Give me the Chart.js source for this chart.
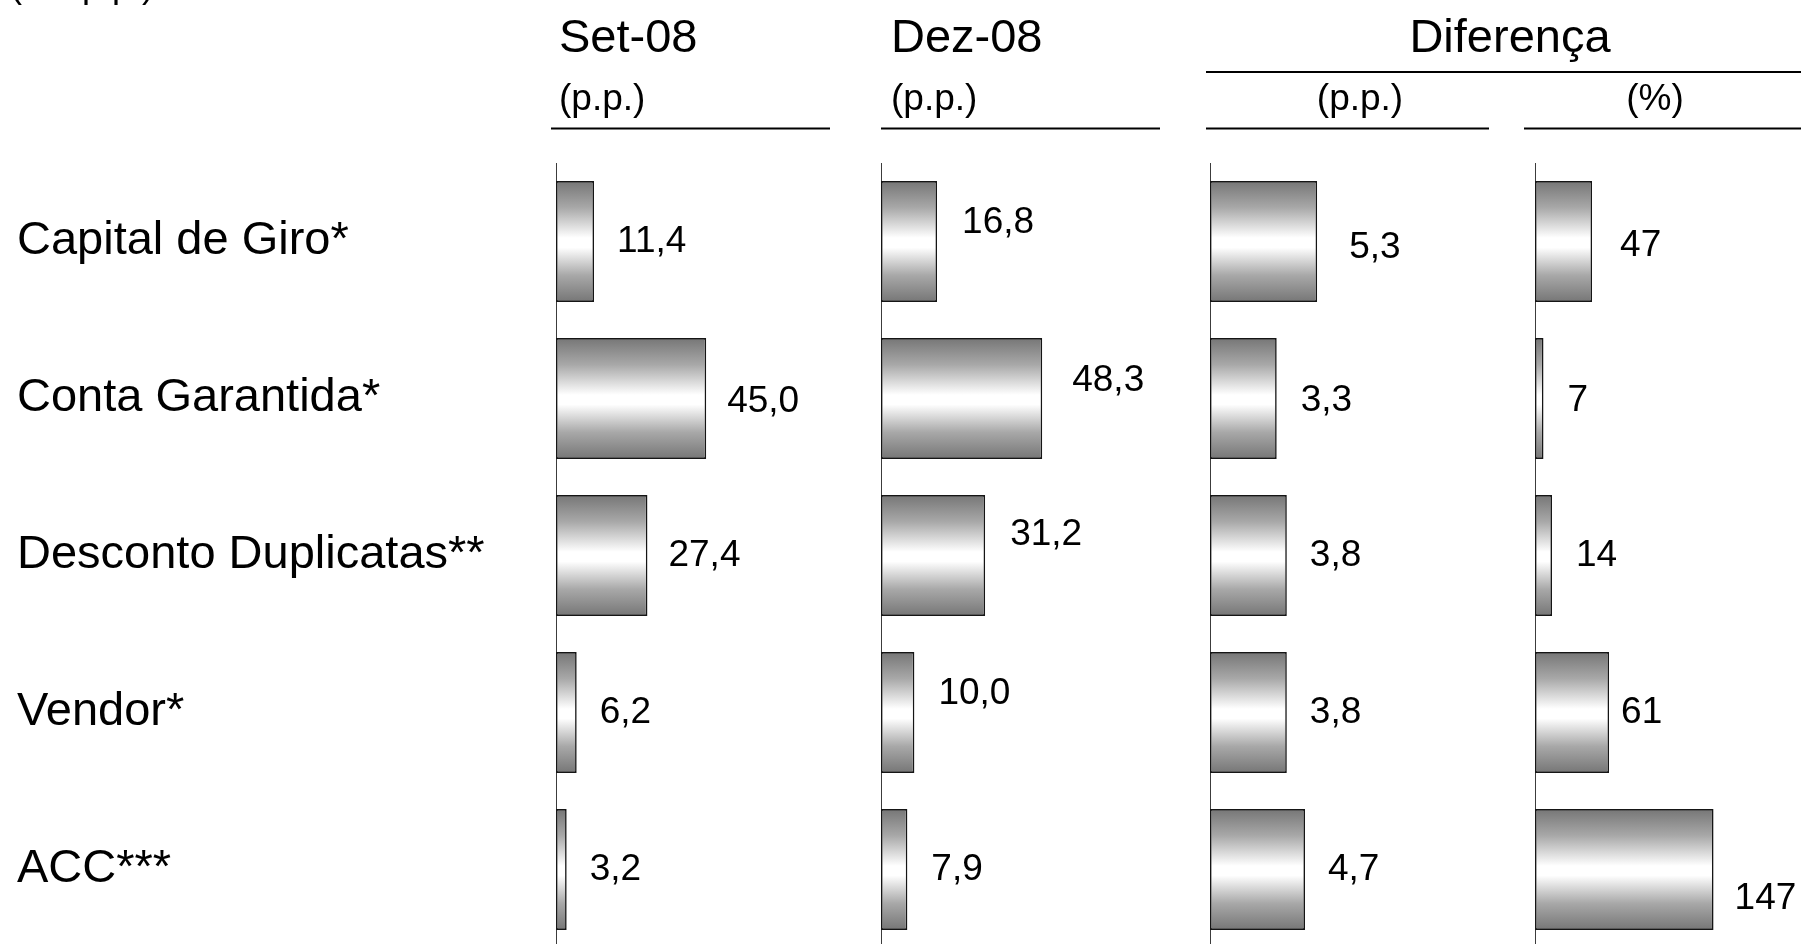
<!DOCTYPE html>
<html>
<head>
<meta charset="utf-8">
<title>Spread por modalidade</title>
<script src="https://cdn.jsdelivr.net/npm/chart.js@4.4.1/dist/chart.umd.min.js"></script>
<style>
    html, body { margin: 0; padding: 0; background: #fff; overflow: hidden; }
    #quadro { position: relative; width: 1801px; height: 944px; }
    #quadro canvas { position: absolute; left: 0; top: 0; }
</style>
</head>
<body>
<div id="quadro">
    <canvas id="doThiSet" width="1801" height="948"></canvas>
    <canvas id="doThiDez" width="1801" height="948"></canvas>
    <canvas id="doThiDifPP" width="1801" height="948"></canvas>
    <canvas id="doThiDifPerc" width="1801" height="948"></canvas>
</div>
<script>
// dados do grafico
var _categorias = ['Capital de Giro*', 'Conta Garantida*', 'Desconto Duplicatas**', 'Vendor*', 'ACC***'];
var _valoresSet = [11.4, 45.0, 27.4, 6.2, 3.2];
var _valoresDez = [16.8, 48.3, 31.2, 10.0, 7.9];
var _difPP = [5.3, 3.3, 3.8, 3.8, 4.7];
var _difPerc = [47, 7, 14, 61, 147];
var _titulos = ['Set-08', 'Dez-08', 'Diferença'];
var _subtitulos = ['(p.p.)', '(p.p.)', '(p.p.)', '(%)'];
var _notaTopo = '(em p.p.)';

var FONTE = "'Liberation Sans', Arial, Helvetica, sans-serif";
var LARGURA = 1801;
var BARRA_PCT = 0.77;

// degrade cinza -> branco -> cinza em cada barra
function gradienteBarra(context) {
    var chart = context.chart;
    var eixoY = chart.scales.y;
    if (!eixoY || !chart.chartArea || context.type !== 'data') {
        return '#bbbbbb';
    }
    var centro = eixoY.getPixelForValue(context.dataIndex);
    var meia = eixoY.height / _categorias.length * BARRA_PCT / 2;
    var g = chart.ctx.createLinearGradient(0, centro - meia, 0, centro + meia);
    g.addColorStop(0, '#767676');
    g.addColorStop(0.22, '#a8a8a8');
    g.addColorStop(0.47, '#ffffff');
    g.addColorStop(0.55, '#ffffff');
    g.addColorStop(0.78, '#a8a8a8');
    g.addColorStop(1, '#767676');
    return g;
}

function formatoDecimal(v) {
    return v.toFixed(1).replace('.', ',');
}
function formatoInteiro(v) {
    return String(Math.round(v));
}

// rotulos de valor ao lado de cada barra
var pluginRotulos = {
    id: 'rotulos',
    afterDatasetsDraw: function (chart, args, opts) {
        var c = chart.ctx;
        var meta = chart.getDatasetMeta(0);
        var valores = chart.data.datasets[0].data;
        c.save();
        c.font = '37px ' + FONTE;
        c.fillStyle = '#000';
        c.textAlign = 'left';
        c.textBaseline = 'middle';
        meta.data.forEach(function (barra, i) {
            var dx = opts.dx ? opts.dx[i] : 23;
            var dy = opts.dy ? opts.dy[i] : 0;
            c.fillText(opts.formato(valores[i]), barra.x + dx, barra.y + dy);
        });
        c.restore();
    }
};

function linha(c, x1, x2, y) {
    c.beginPath();
    c.moveTo(x1, y);
    c.lineTo(x2, y);
    c.stroke();
}

// titulos, subtitulos e linhas do cabecalho
var pluginCabecalho = {
    id: 'cabecalho',
    afterDraw: function (chart) {
        var c = chart.ctx;
        c.save();
        c.fillStyle = '#000';
        c.textBaseline = 'alphabetic';
        c.textAlign = 'left';
        c.font = '36px ' + FONTE;
        c.fillText(_notaTopo, 10, -3);

        c.font = '47px ' + FONTE;
        c.fillText(_titulos[0], 559, 52);
        c.fillText(_titulos[1], 891, 52);
        c.textAlign = 'center';
        c.fillText(_titulos[2], 1510, 52);

        c.font = '37px ' + FONTE;
        c.textAlign = 'left';
        c.fillText(_subtitulos[0], 559, 110);
        c.fillText(_subtitulos[1], 891, 110);
        c.textAlign = 'center';
        c.fillText(_subtitulos[2], 1360, 110);
        c.fillText(_subtitulos[3], 1655, 110);

        c.strokeStyle = '#000';
        c.lineWidth = 2;
        linha(c, 1206, 1801, 72);
        linha(c, 551, 830, 128.5);
        linha(c, 881, 1160, 128.5);
        linha(c, 1206, 1489, 128.5);
        linha(c, 1524, 1801, 128.5);
        c.restore();
    }
};

function renderDoThi(canvasId, valores, cfg) {
    var ctx = document.getElementById(canvasId).getContext('2d');
    var comRotulos = cfg.categorias === true;
    return new Chart(ctx, {
        type: 'bar',
        data: {
            labels: _categorias,
            datasets: [{
                data: valores,
                backgroundColor: gradienteBarra,
                borderColor: '#151515',
                borderWidth: 1.6,
                borderSkipped: false,
                barPercentage: BARRA_PCT,
                categoryPercentage: 1
            }]
        },
        options: {
            indexAxis: 'y',
            responsive: false,
            animation: false,
            events: [],
            layout: {
                padding: { left: cfg.esquerda, right: LARGURA - cfg.direita, top: 163, bottom: 0 }
            },
            scales: {
                x: { display: false, min: 0, max: cfg.max },
                y: {
                    display: true,
                    grid: { display: false },
                    border: { display: true, color: '#3c3c3c', width: 1 },
                    ticks: {
                        display: comRotulos,
                        autoSkip: false,
                        crossAlign: 'far',
                        color: '#000',
                        font: { family: FONTE, size: 47 }
                    },
                    afterFit: function (scale) {
                        scale.width = cfg.eixo - cfg.esquerda;
                        // os rotulos cabem dentro das faixas, sem margem extra
                        scale.paddingTop = 0;
                        scale.paddingBottom = 0;
                    }
                }
            },
            plugins: {
                legend: { display: false },
                tooltip: { enabled: false },
                rotulos: { formato: cfg.formato, dx: cfg.dx, dy: cfg.dy }
            }
        },
        plugins: [pluginRotulos].concat(cfg.extras || [])
    });
}

var _chartSet = renderDoThi('doThiSet', _valoresSet, {
    categorias: true, esquerda: 17, eixo: 556, direita: 823, max: 80,
    formato: formatoDecimal,
    dx: [23, 21, 21, 23, 23], dy: [0, 3, 0, 0, 0],
    extras: [pluginCabecalho]
});
var _chartDez = renderDoThi('doThiDez', _valoresDez, {
    esquerda: 881, eixo: 881, direita: 1148, max: 80,
    formato: formatoDecimal,
    dx: [25, 30, 25, 24, 24], dy: [-19, -18, -21, -19, 0]
});
var _chartDifPP = renderDoThi('doThiDifPP', _difPP, {
    esquerda: 1210, eixo: 1210, direita: 1493, max: 14,
    formato: formatoDecimal,
    dx: [32, 24, 23, 23, 23], dy: [6, 2, 0, 0, 0]
});
var _chartDifPerc = renderDoThi('doThiDifPerc', _difPerc, {
    esquerda: 1535, eixo: 1535, direita: 1801, max: 219,
    formato: formatoInteiro,
    dx: [28, 24, 24, 12, 21], dy: [4, 2, 0, 0, 29]
});
</script>
</body>
</html>
